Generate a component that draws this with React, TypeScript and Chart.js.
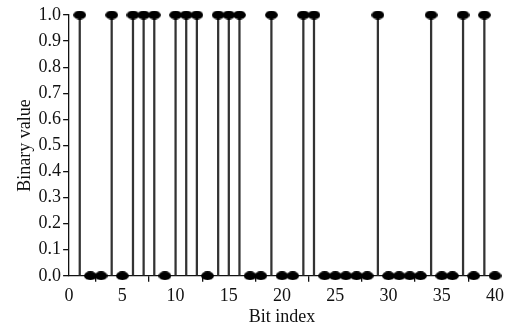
import React, { useEffect, useRef } from "react";
import { Chart, registerables } from "chart.js";

Chart.register(...registerables);

const bitIndex: number[] = Array.from({ length: 40 }, (_, i) => i + 1);
const bitValues: number[] = [
  1, 0, 0, 1, 0, 1, 1, 1, 0, 1,
  1, 1, 0, 1, 1, 1, 0, 0, 1, 0,
  0, 1, 1, 0, 0, 0, 0, 0, 1, 0,
  0, 0, 0, 1, 0, 0, 1, 0, 1, 0,
];
const xTitle = "Bit index";
const yTitle = "Binary value";

function makeEllipse(): HTMLCanvasElement {
  const c = document.createElement("canvas");
  c.width = 13;
  c.height = 9;
  const ctx = c.getContext("2d")!;
  ctx.fillStyle = "#000";
  ctx.beginPath();
  ctx.ellipse(6.5, 4.5, 6.4, 4.4, 0, 0, Math.PI * 2);
  ctx.fill();
  return c;
}

export default function App() {
  const ref = useRef<HTMLCanvasElement>(null);
  useEffect(() => {
    const font = { family: "'Liberation Serif', 'Times New Roman', serif", size: 18 };
    const pts = bitIndex.map((x, i) => ({ x, y: bitValues[i] }));
    const chart = new Chart(ref.current!, {
      type: "bar",
      data: {
        datasets: [
          {
            type: "bar",
            data: pts,
            backgroundColor: "#333",
            borderWidth: 0,
            barThickness: 1.6,
            order: 2,
          } as any,
          {
            type: "scatter",
            data: pts,
            pointStyle: makeEllipse(),
            pointRadius: 6,
            clip: false,
            order: 1,
          } as any,
        ],
      },
      options: {
        animation: false,
        responsive: false,
        maintainAspectRatio: false,
        layout: { padding: { top: 15, right: 15, left: 14, bottom: 0 } },
        plugins: { legend: { display: false }, tooltip: { enabled: false } },
        scales: {
          x: {
            type: "linear",
            min: 0,
            max: 40,
            offset: false,
            ticks: { stepSize: 5, color: "#111", font, padding: 4, maxRotation: 0 },
            grid: { display: true, drawOnChartArea: false, drawTicks: true, tickLength: 6, color: "#111", lineWidth: 1.3 },
            border: { display: true, color: "#111", width: 1.3 },
            title: { display: true, text: xTitle, color: "#111", font, padding: { top: -5, bottom: 0 } },
          },
          y: {
            min: 0,
            max: 1,
            ticks: {
              stepSize: 0.1,
              color: "#111",
              font,
              padding: 2,
              callback: (v: any) => Number(v).toFixed(1),
            },
            grid: { display: true, drawOnChartArea: false, drawTicks: true, tickLength: 6, color: "#111", lineWidth: 1.3 },
            border: { display: true, color: "#111", width: 1.3 },
            title: { display: true, text: yTitle, color: "#111", font, padding: { top: 0, bottom: 1 } },
          },
        },
      },
    });
    return () => chart.destroy();
  }, []);
  return (
    <div style={{ position: "fixed", left: 0, top: 0, width: 510, height: 328, background: "#fff" }}>
      <canvas ref={ref} width={510} height={328} style={{ width: 510, height: 328 }} />
    </div>
  );
}
